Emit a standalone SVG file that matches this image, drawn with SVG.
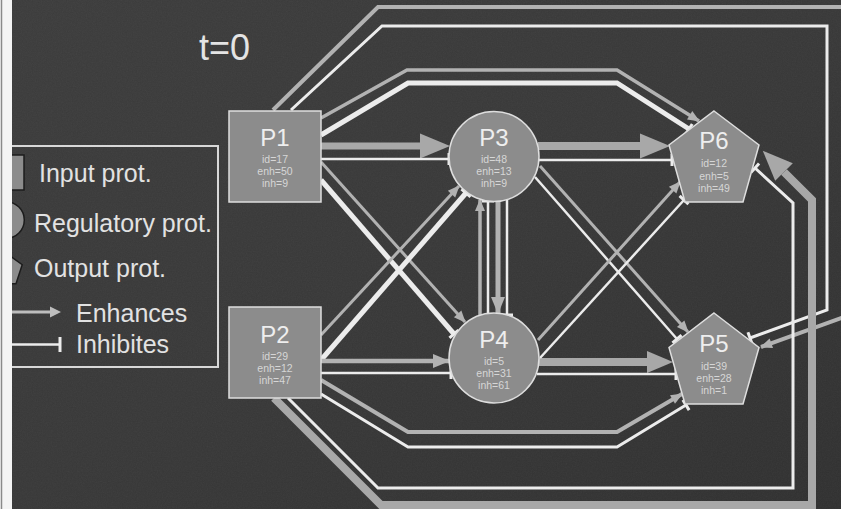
<svg xmlns="http://www.w3.org/2000/svg" width="841" height="509" viewBox="0 0 841 509">
<defs>
  <linearGradient id="bg" x1="0" y1="0" x2="1" y2="1">
    <stop offset="0" stop-color="#3c3c3c"/>
    <stop offset="0.5" stop-color="#383838"/>
    <stop offset="1" stop-color="#303030"/>
  </linearGradient>
  <filter id="chalk" x="0" y="0" width="1" height="1">
    <feTurbulence type="fractalNoise" baseFrequency="0.8" numOctaves="2" seed="4"/>
    <feColorMatrix type="saturate" values="0"/>
  </filter>
  <marker id="aS" markerUnits="userSpaceOnUse" markerWidth="12" markerHeight="10" refX="11" refY="5" orient="auto" overflow="visible">
    <path d="M0,0 L12,5 L0,10 z" fill="#b2b2b2"/>
  </marker>
  <marker id="aM" markerUnits="userSpaceOnUse" markerWidth="17" markerHeight="14" refX="16" refY="7" orient="auto" overflow="visible">
    <path d="M0,0 L17,7 L0,14 z" fill="#b2b2b2"/>
  </marker>
  <marker id="aL" markerUnits="userSpaceOnUse" markerWidth="30" markerHeight="25" refX="0" refY="12.5" orient="auto" overflow="visible">
    <path d="M0,0 L30,12.5 L0,25 z" fill="#a8a8a8"/>
  </marker>
  <marker id="aL2" markerUnits="userSpaceOnUse" markerWidth="26" markerHeight="22" refX="0" refY="11" orient="auto" overflow="visible">
    <path d="M0,0 L26,11 L0,22 z" fill="#a8a8a8"/>
  </marker>
  <marker id="bar" markerUnits="userSpaceOnUse" markerWidth="4" markerHeight="12" refX="0" refY="6" orient="auto" overflow="visible">
    <path d="M0,0 L0,12" stroke="#ececec" stroke-width="3" fill="none"/>
  </marker>
  <style>
    .g{fill:none;stroke:#b2b2b2;stroke-linejoin:miter}
    .gt{fill:none;stroke:#a8a8a8;stroke-linejoin:miter}
    .w{fill:none;stroke:#ececec;stroke-linejoin:miter;marker-end:url(#bar)}
    .node{fill:#8c8c8c;stroke:#dedede;stroke-width:1.5}
    text{font-family:"Liberation Sans",Arial,Helvetica,sans-serif}
    .lab{font-size:24px;fill:#eeeeee;text-anchor:middle}
    .sm{font-size:10.5px;fill:#d6d6d6;text-anchor:middle}
    .leg{font-size:25px;fill:#e2e2e2}
    .lshape{fill:#8c8c8c;stroke:#1c1c1c;stroke-width:1.5}
  </style>
</defs>

<rect x="0" y="0" width="841" height="509" fill="url(#bg)"/>
<rect x="0" y="0" width="841" height="509" filter="url(#chalk)" opacity="0.06"/>

<text x="199" y="60" font-size="36" fill="#e4e4e4">t=0</text>

<g id="legend">
  <rect x="-5" y="146" width="223" height="221" fill="none" stroke="#d8d8d8" stroke-width="2"/>
  <rect x="-11" y="155" width="35" height="35" class="lshape"/>
  <circle cx="6" cy="220" r="18.3" class="lshape"/>
  <polygon points="6,253 22.2,264.7 16,283.8 -4,283.8 -10.2,264.7" class="lshape"/>
  <text x="39" y="182" class="leg">Input prot.</text>
  <text x="34" y="232" class="leg">Regulatory prot.</text>
  <text x="34" y="277" class="leg">Output prot.</text>
  <line x1="0" y1="312" x2="52" y2="312" stroke="#bdbdbd" stroke-width="3"/>
  <path d="M50,306.5 L61,312 L50,317.5 z" fill="#bdbdbd"/>
  <text x="76" y="322" class="leg">Enhances</text>
  <line x1="0" y1="344.5" x2="60" y2="344.5" stroke="#ececec" stroke-width="2.5"/>
  <line x1="60" y1="337" x2="60" y2="352" stroke="#ececec" stroke-width="3"/>
  <text x="76" y="353" class="leg">Inhibites</text>
</g>

<g id="edges">
  <path class="g" stroke-width="4" d="M273,110 L378,7 L850,7 L850,315 L761,347" marker-end="url(#aS)"/>
  <path class="w" stroke-width="3" d="M291,110 L382,26 L827,26 L827,310 L750,338"/>
  <path class="g" stroke-width="3.5" d="M321,118 L407,70 L617,70 L699,121" marker-end="url(#aS)"/>
  <path class="w" stroke-width="5" d="M321,135 L408,83 L617,83 L689,129"/>
  <path class="gt" stroke-width="7" d="M321,146 L420,146" marker-end="url(#aL)"/>
  <path class="w" stroke-width="2.5" d="M321,159 L449,159"/>
  <path class="g" stroke-width="3" d="M321,162 L465,322" marker-end="url(#aS)"/>
  <path class="w" stroke-width="5" d="M321,180 L454,334"/>
  <path class="g" stroke-width="3" d="M321,335 L459,186" marker-end="url(#aS)"/>
  <path class="w" stroke-width="5" d="M321,360 L466,193"/>
  <path class="g" stroke-width="4.5" d="M321,361 L449,361" marker-end="url(#aM)"/>
  <path class="w" stroke-width="2.5" d="M321,373 L451,373"/>
  <path class="g" stroke-width="4" d="M321,380 L408,432 L617,432 L682,394" marker-end="url(#aS)"/>
  <path class="w" stroke-width="3" d="M321,394 L408,447 L617,447 L686,405"/>
  <path class="gt" stroke-width="8" d="M274,398 L381,505 L812,505 L812,200 L784,172" marker-end="url(#aL)"/>
  <path class="w" stroke-width="3" d="M288,398 L378,488 L793,488 L793,203 L755,168"/>
  <path class="gt" stroke-width="8" d="M538,146 L640,146" marker-end="url(#aL)"/>
  <path class="w" stroke-width="2.5" d="M538,160 L672,160"/>
  <path class="g" stroke-width="3" d="M540,166 L688,332" marker-end="url(#aS)"/>
  <path class="w" stroke-width="2.5" d="M535,177 L677,339"/>
  <path class="gt" stroke-width="8" d="M539,362 L647,362" marker-end="url(#aL2)"/>
  <path class="w" stroke-width="2.5" d="M537,374 L676,374"/>
  <path class="g" stroke-width="3" d="M538,340 L680,182" marker-end="url(#aS)"/>
  <path class="w" stroke-width="2.5" d="M540,358 L684,200"/>
  <path class="g" stroke-width="5" d="M498,201 L498,313" marker-end="url(#aM)"/>
  <path class="w" stroke-width="2.5" d="M507,199 L507,315"/>
  <path class="g" stroke-width="3.5" d="M480,315 L480,200" marker-end="url(#aS)"/>
  <path class="w" stroke-width="2.5" d="M488,313 L488,201"/>
</g>

<g id="P1">
  <rect x="229" y="111" width="92" height="91" class="node"/>
  <text x="275" y="146" class="lab">P1</text>
  <text x="275" y="163" class="sm">id=17</text>
  <text x="275" y="175" class="sm">enh=50</text>
  <text x="275" y="187" class="sm">inh=9</text>
</g>
<g id="P2">
  <rect x="229" y="307" width="92" height="91" class="node"/>
  <text x="275" y="343" class="lab">P2</text>
  <text x="275" y="360" class="sm">id=29</text>
  <text x="275" y="372" class="sm">enh=12</text>
  <text x="275" y="384" class="sm">inh=47</text>
</g>
<g id="P3">
  <circle cx="494" cy="156.5" r="45" class="node"/>
  <text x="494" y="146" class="lab">P3</text>
  <text x="494" y="163" class="sm">id=48</text>
  <text x="494" y="175" class="sm">enh=13</text>
  <text x="494" y="187" class="sm">inh=9</text>
</g>
<g id="P4">
  <circle cx="494" cy="358" r="45" class="node"/>
  <text x="494" y="348" class="lab">P4</text>
  <text x="494" y="365" class="sm">id=5</text>
  <text x="494" y="377" class="sm">enh=31</text>
  <text x="494" y="389" class="sm">inh=61</text>
</g>
<g id="P6">
  <polygon points="714,111 759,145 743,202 685,202 669,145" class="node"/>
  <text x="714" y="149" class="lab">P6</text>
  <text x="714" y="167" class="sm">id=12</text>
  <text x="714" y="179.5" class="sm">enh=5</text>
  <text x="714" y="192" class="sm">inh=49</text>
</g>
<g id="P5">
  <polygon points="714,313 759,347.5 743,404 685,404 669,347.5" class="node"/>
  <text x="714" y="352" class="lab">P5</text>
  <text x="714" y="370" class="sm">id=39</text>
  <text x="714" y="382" class="sm">enh=28</text>
  <text x="714" y="394" class="sm">inh=1</text>
</g>

<rect x="0" y="0" width="12" height="509" fill="#f4f4f4"/>
<line x1="1.5" y1="0" x2="1.5" y2="509" stroke="#8a8a8a" stroke-width="1.5"/>
</svg>
